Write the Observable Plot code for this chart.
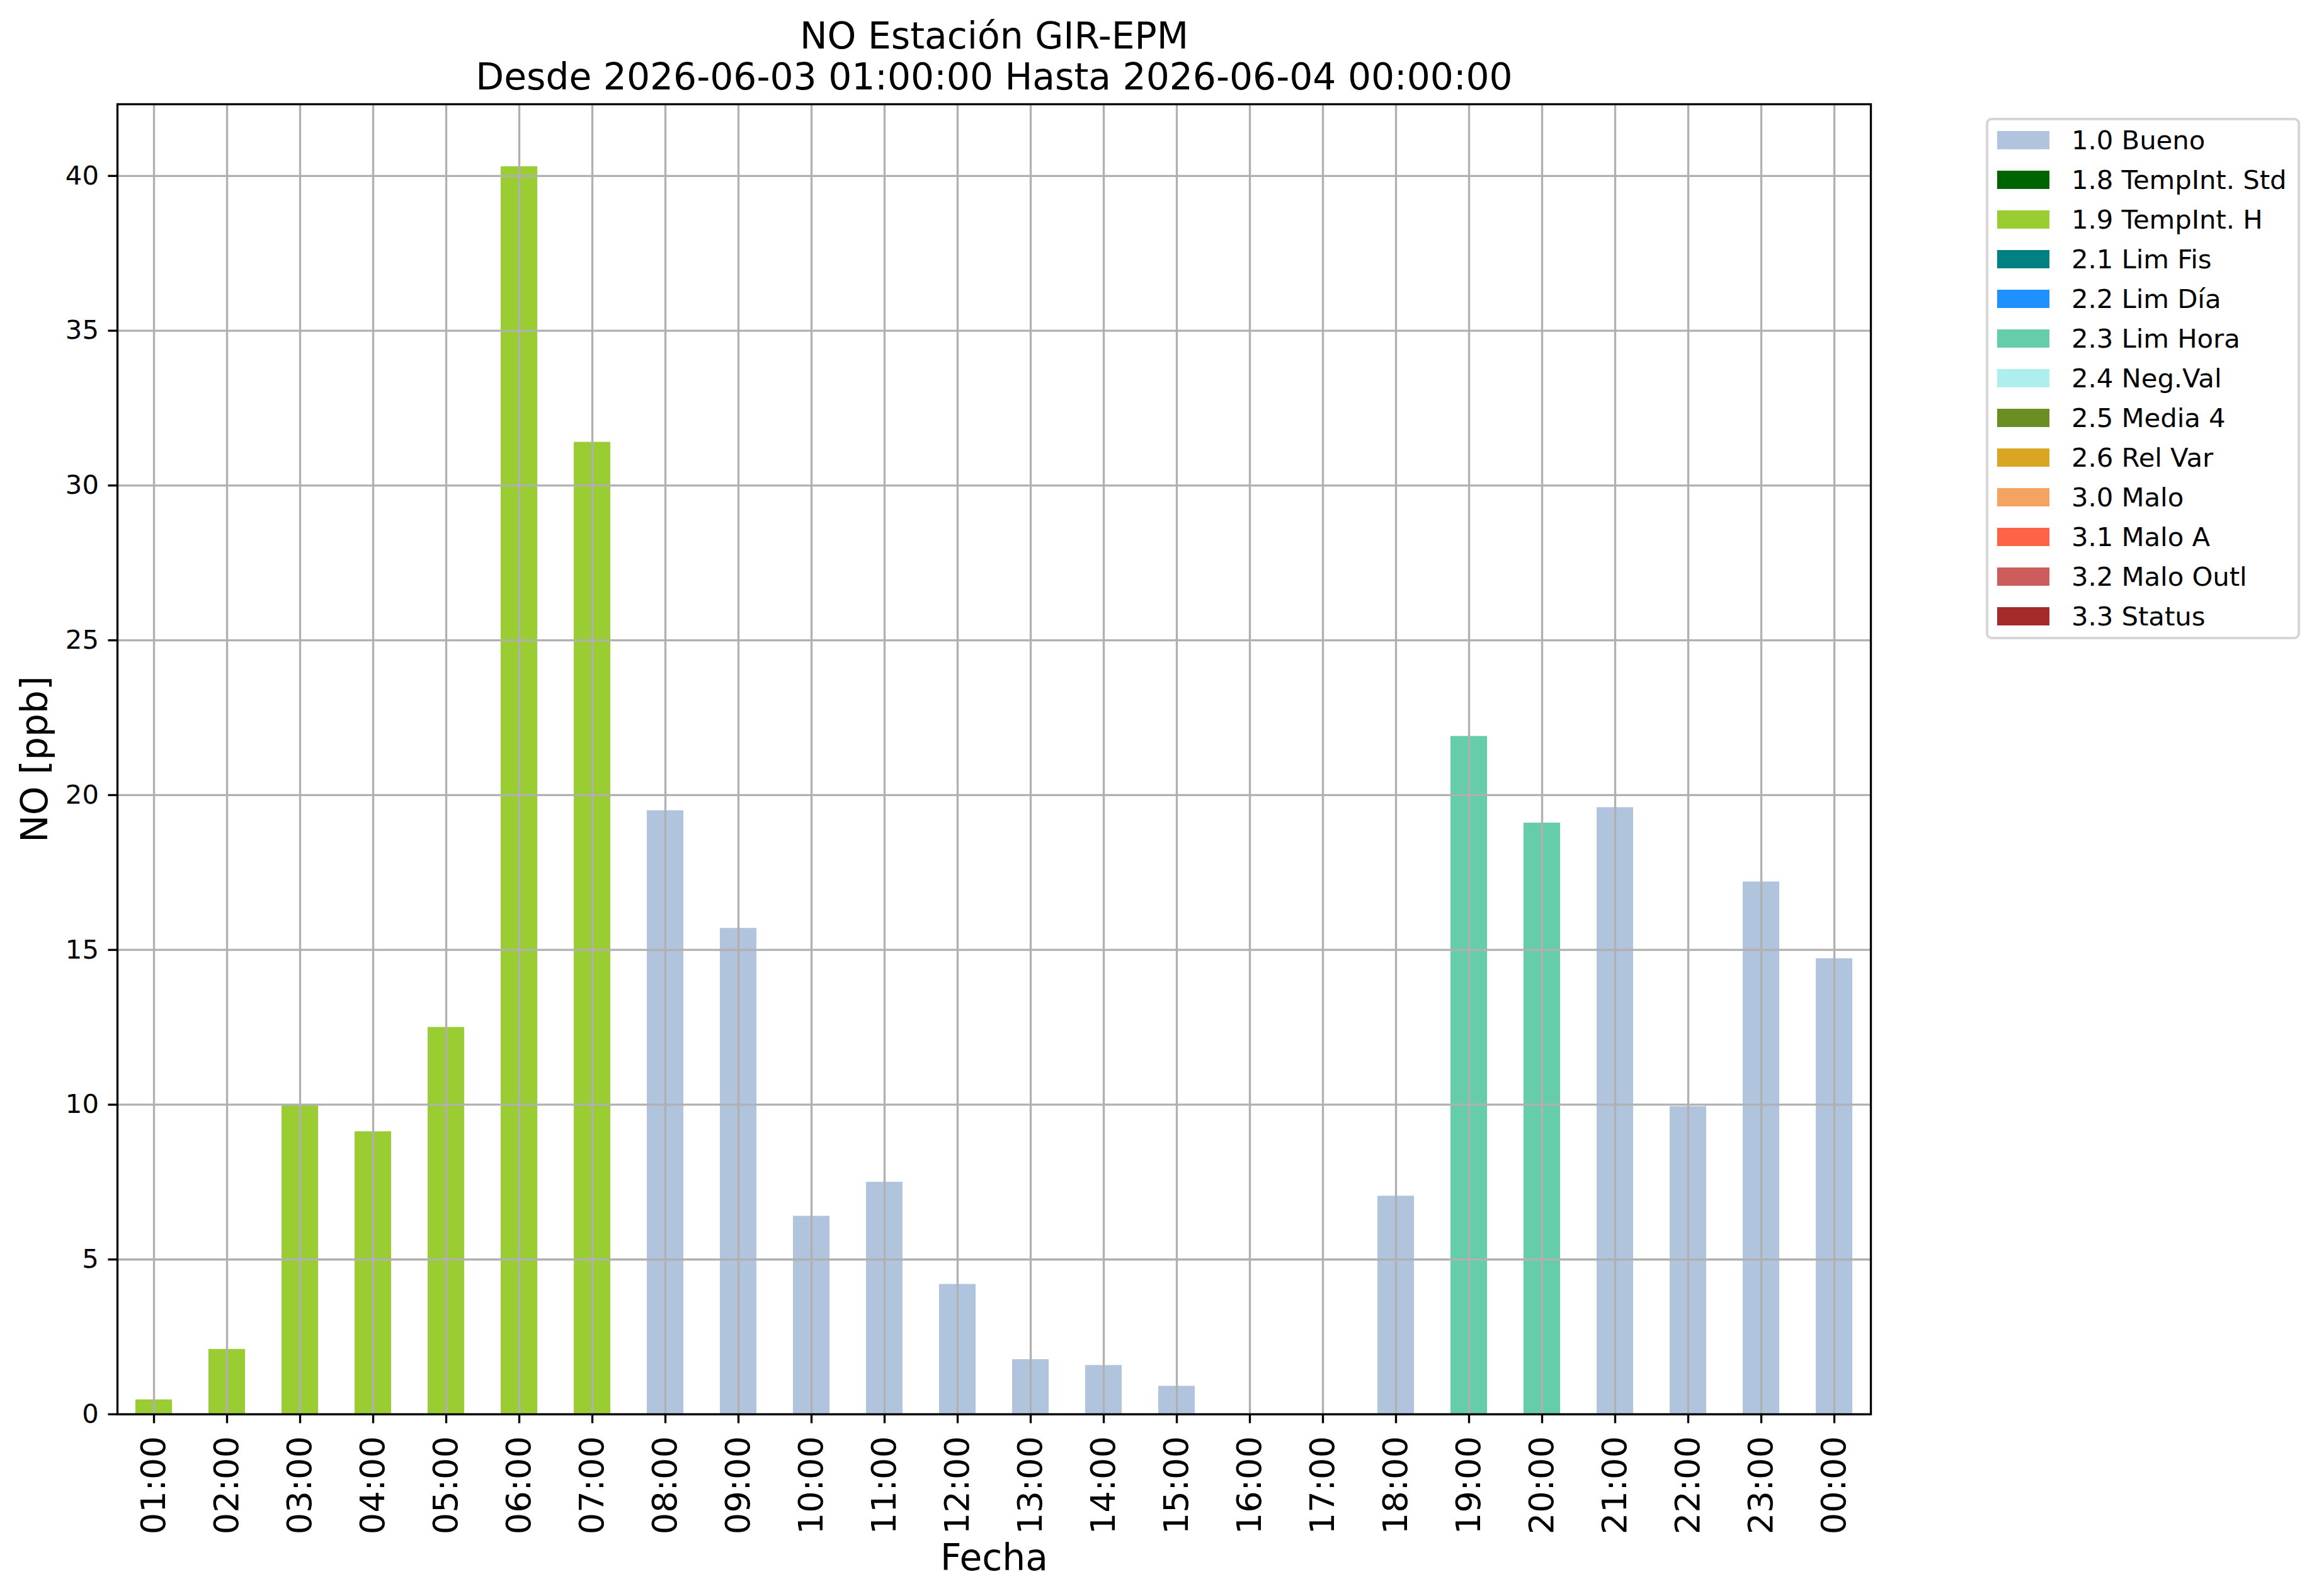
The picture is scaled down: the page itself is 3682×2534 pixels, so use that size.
<!DOCTYPE html>
<html>
<head>
<meta charset="utf-8">
<script src="https://cdn.jsdelivr.net/npm/d3@7"></script>
<script src="https://cdn.jsdelivr.net/npm/@observablehq/plot@0.6"></script>
<style>
  html, body { margin: 0; padding: 0; background: white; }
  #wrap { position: relative; width: 3682px; height: 2534px; font-family: "DejaVu Sans", sans-serif; }
  #legend { position: absolute; left: 3153px; top: 187px; width: 499px; height: 828px; box-sizing: border-box;
            border: 4px solid #d6d6d6; border-radius: 9px; background: white; }
  .row { height: 63px; display: flex; align-items: center; }
  .sw { width: 83px; height: 29px; margin-left: 14px; margin-right: 35px; flex: none; }
  .lab { font-size: 41.7px; color: black; white-space: nowrap; }
</style>
</head>
<body>
<div id="wrap"></div>
<script>
// ---- data ----
const hours = ["01:00","02:00","03:00","04:00","05:00","06:00","07:00","08:00","09:00","10:00","11:00","12:00",
               "13:00","14:00","15:00","16:00","17:00","18:00","19:00","20:00","21:00","22:00","23:00","00:00"];
const values = [0.47, 2.1, 10.0, 9.13, 12.5, 40.3, 31.4, 19.5, 15.7, 6.4, 7.5, 4.2,
                1.77, 1.58, 0.91, null, null, 7.05, 21.9, 19.1, 19.6, 9.94, 17.2, 14.72];
const flags = ["1.9 TempInt. H","1.9 TempInt. H","1.9 TempInt. H","1.9 TempInt. H","1.9 TempInt. H","1.9 TempInt. H","1.9 TempInt. H",
               "1.0 Bueno","1.0 Bueno","1.0 Bueno","1.0 Bueno","1.0 Bueno","1.0 Bueno","1.0 Bueno","1.0 Bueno",
               null, null,
               "1.0 Bueno","2.3 Lim Hora","2.3 Lim Hora","1.0 Bueno","1.0 Bueno","1.0 Bueno","1.0 Bueno"];
const flagLabels = ["1.0 Bueno","1.8 TempInt. Std","1.9 TempInt. H","2.1 Lim Fis","2.2 Lim Día","2.3 Lim Hora",
                    "2.4 Neg.Val","2.5 Media 4","2.6 Rel Var","3.0 Malo","3.1 Malo A","3.2 Malo Outl","3.3 Status"];
const flagColors = ["#b0c4de","#006400","#9acd32","#008080","#1e90ff","#66cdaa",
                    "#afeeee","#6b8e23","#daa520","#f4a460","#ff6347","#cd5c5c","#a52a2a"];
const yTicks = [0, 5, 10, 15, 20, 25, 30, 35, 40];
const yMax = 42.315;
const title1 = "NO Estación GIR-EPM";
const title2 = "Desde 2026-06-03 01:00:00 Hasta 2026-06-04 00:00:00";
const xLabel = "Fecha";
const yLabel = "NO [ppb]";

const data = hours.map((h, i) => ({hour: h, value: values[i], flag: flags[i]}))
                  .filter(d => d.value != null);

const lw = 3.33;
const chart = Plot.plot({
  width: 3682,
  height: 2534,
  marginTop: 165,
  marginBottom: 289,
  marginLeft: 186,
  marginRight: 712,
  style: {fontFamily: "DejaVu Sans", background: "white", color: "black", overflow: "visible"},
  x: {type: "band", domain: hours, paddingInner: 0.5, paddingOuter: 0.25, align: 0.5},
  y: {domain: [0, yMax]},
  color: {domain: flagLabels, range: flagColors},
  marks: [
    Plot.barY(data, {x: "hour", y: "value", fill: "flag"}),
    Plot.gridX({stroke: "#b0b0b0", strokeOpacity: 1, strokeWidth: lw}),
    Plot.gridY({ticks: yTicks, stroke: "#b0b0b0", strokeOpacity: 1, strokeWidth: lw}),
    Plot.frame({stroke: "black", strokeWidth: lw}),
    Plot.axisY({ticks: yTicks, tickSize: 14.6, tickPadding: 15, fontSize: 41.7, strokeWidth: lw, label: null}),
    Plot.axisX({tickRotate: -90, tickSize: 14.6, tickPadding: 20, fontSize: 54.2, strokeWidth: lw, label: null}),
    Plot.text([xLabel], {frameAnchor: "bottom", textAnchor: "middle", lineAnchor: "bottom", dy: 247, fontSize: 58.3, fill: "black"}),
    Plot.text([yLabel], {frameAnchor: "left", textAnchor: "middle", lineAnchor: "bottom", rotate: -90, dx: -112, fontSize: 58.3, fill: "black"}),
    Plot.text([title1], {frameAnchor: "top", textAnchor: "middle", lineAnchor: "bottom", dy: -89, fontSize: 58.3, fill: "black"}),
    Plot.text([title2], {frameAnchor: "top", textAnchor: "middle", lineAnchor: "bottom", dy: -24, fontSize: 58.3, fill: "black"})
  ]
});

const wrap = document.getElementById("wrap");
wrap.appendChild(chart);

const legend = document.createElement("div");
legend.id = "legend";
flagLabels.forEach((lab, i) => {
  const row = document.createElement("div");
  row.className = "row";
  const sw = document.createElement("div");
  sw.className = "sw";
  sw.style.background = flagColors[i];
  const t = document.createElement("span");
  t.className = "lab";
  t.textContent = lab;
  row.appendChild(sw);
  row.appendChild(t);
  legend.appendChild(row);
});
wrap.appendChild(legend);
</script>
</body>
</html>
